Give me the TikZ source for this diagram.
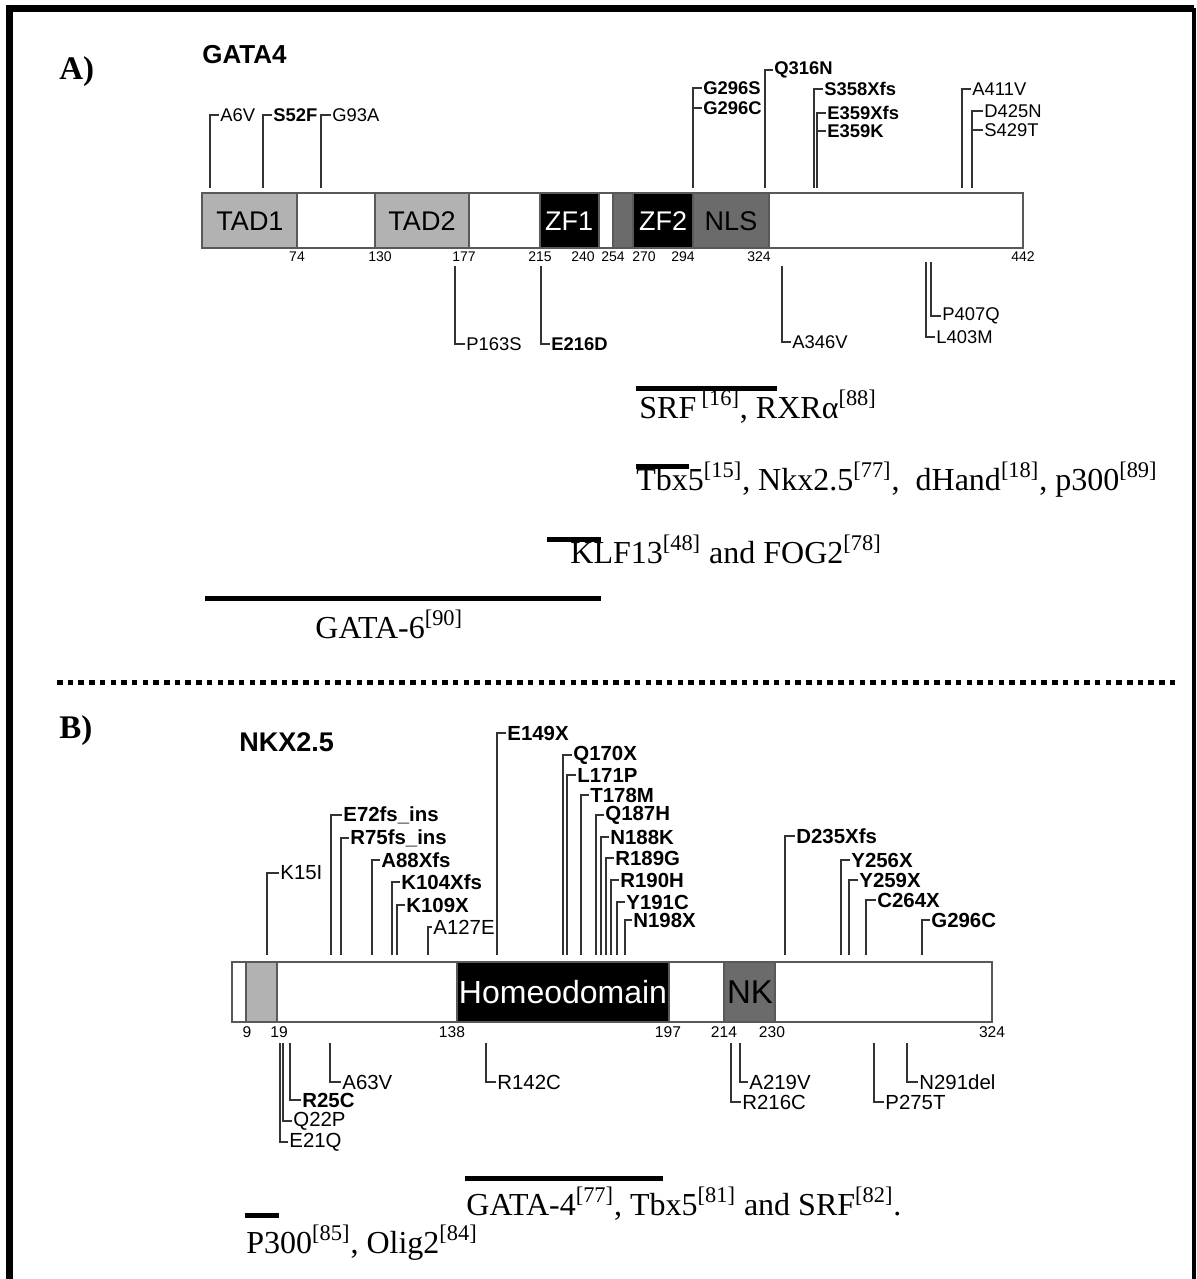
\documentclass[tikz,border=0pt]{standalone}
\usepackage{fontspec}
\setmainfont{Liberation Serif}
\setsansfont{Liberation Sans}
\tikzset{frame/.style={line width=3.5pt},protein/.style={draw=black!65,line width=.75pt},
  tad/.style={protein,fill=black!30},zf/.style={protein,fill=black},nls/.style={protein,fill=black!58},
  lead/.style={draw=black!80,line width=.65pt},
  mutA/.style={anchor=west,inner sep=.5pt,font=\sffamily\fontsize{9.2}{10}\selectfont},
  mutAb/.style={mutA,font=\sffamily\bfseries\fontsize{9.2}{10}\selectfont},
  mutB/.style={anchor=west,inner sep=.5pt,font=\sffamily\fontsize{10.2}{11}\selectfont},
  mutBb/.style={mutB,font=\sffamily\bfseries\fontsize{10.2}{11}\selectfont},
  posA/.style={anchor=center,inner sep=0pt,font=\sffamily\fontsize{7}{7}\selectfont},
  posB/.style={anchor=center,inner sep=0pt,font=\sffamily\fontsize{7.8}{8}\selectfont},
  domtext/.style={anchor=center,inner sep=0pt,font=\sffamily\fontsize{13.5}{14}\selectfont},
  partner/.style={anchor=base west,inner sep=0pt,font=\fontsize{16}{18}\selectfont},
  bind/.style={line width=2.5pt}}

\begin{document}
\begin{tikzpicture}[x=.5pt,y=-.5pt]
\path[use as bounding box] (0,0) rectangle (1197,1279);
\draw[frame] (9.5,1279) -- (9.5,8.5) -- (1194,8.5);
\draw[line width=2pt] (1194,8.5) -- (1194,1279);
% panel A
\node[anchor=base west,inner sep=0pt,font=\bfseries\fontsize{16.5}{18}\selectfont] (lblA) at (59,80) {A)};
\node[anchor=west,inner sep=0pt,font=\sffamily\bfseries\fontsize{13}{14}\selectfont] (gata) at (202,55) {GATA4};
\draw[protein,fill=white] (202,193) rectangle (1023,248);
\draw[tad] (202,193) rectangle (297,248);
\draw[tad] (375,193) rectangle (469,248);
\draw[zf] (540,193) rectangle (599,248);
\draw[nls] (613,193) rectangle (633,248);
\draw[zf] (633,193) rectangle (693,248);
\draw[nls] (693,193) rectangle (769,248);
\node[domtext] (tad1) at (250,221) {TAD1};
\node[domtext] (tad2) at (422,221) {TAD2};
\node[domtext,text=white] (zf1) at (569,221) {ZF1};
\node[domtext,text=white] (zf2) at (663,221) {ZF2};
\node[domtext] (nls) at (731,221) {NLS};
\node[posA] (n74) at (297,257) {74};
\node[posA] (n130) at (380,257) {130};
\node[posA] (n177) at (464,257) {177};
\node[posA] (n215) at (540,257) {215};
\node[posA] (n240) at (583,257) {240};
\node[posA] (n254) at (613,257) {254};
\node[posA] (n270) at (644,257) {270};
\node[posA] (n294) at (683,257) {294};
\node[posA] (n324) at (759,257) {324};
\node[posA] (n442) at (1023,257) {442};
% mutations above
\node[mutA] (a6v) at (219,115) {A6V};
\draw[lead] (210,188) |- (a6v.west);
\node[mutAb] (s52f) at (272,115) {S52F};
\draw[lead] (263,188) |- (s52f.west);
\node[mutA] (g93a) at (331,115) {G93A};
\draw[lead] (321,188) |- (g93a.west);
\node[mutAb] (g296s) at (702,88) {G296S};
\node[mutAb] (g296c) at (702,108) {G296C};
\draw[lead] (693,188) |- (g296s.west);
\draw[lead] (693,108) -- (g296c.west);
\node[mutAb] (q316n) at (773,70) {Q316N};
\draw[lead] (765,188) |- (q316n.west);
\node[mutAb] (s358xfs) at (823,89) {S358Xfs};
\draw[lead] (814,188) |- (s358xfs.west);
\node[mutAb] (e359xfs) at (826,113) {E359Xfs};
\node[mutAb] (e359k) at (826,131) {E359K};
\draw[lead] (817,188) |- (e359xfs.west);
\draw[lead] (817,131) -- (e359k.west);
\node[mutA] (a411v) at (971,89) {A411V};
\draw[lead] (962,188) |- (a411v.west);
\node[mutA] (d425n) at (983,111) {D425N};
\node[mutA] (s429t) at (983,130) {S429T};
\draw[lead] (972,188) |- (d425n.west);
\draw[lead] (972,130) -- (s429t.west);
% mutations below
\node[mutA] (p163s) at (465,344) {P163S};
\draw[lead] (455,266) |- (p163s.west);
\node[mutAb] (e216d) at (550,344) {E216D};
\draw[lead] (541,266) |- (e216d.west);
\node[mutA] (a346v) at (791,342) {A346V};
\draw[lead] (782,266) |- (a346v.west);
\node[mutA] (p407q) at (941,316) {P407Q};
\draw[lead] (931,262) |- (p407q.west);
\node[mutA] (l403m) at (935,337) {L403M};
\draw[lead] (926,262) |- (l403m.west);
% interacting partners
\draw[bind] (636,388) -- (777,388);
\node[partner] (srf) at (639,418) {SRF\,\textsuperscript{[16]}, RXRα\textsuperscript{[88]}};
\draw[bind] (636,466) -- (689,466);
\node[partner] (tbx) at (636,490) {Tbx5\textsuperscript{[15]}, Nkx2.5\textsuperscript{[77]},\ \ dHand\textsuperscript{[18]}, p300\textsuperscript{[89]}};
\draw[bind] (547,539) -- (601,539);
\node[partner] (klf) at (570,563) {KLF13\textsuperscript{[48]} and FOG2\textsuperscript{[78]}};
\draw[bind] (205,598) -- (601,598);
\node[partner] (gata6) at (315,638) {GATA-6\textsuperscript{[90]}};
\draw[line width=2.5pt,dash pattern=on 2.75pt off 2.6pt] (57,682) -- (1178,682);
% panel B
\node[anchor=base west,inner sep=0pt,font=\bfseries\fontsize{16.5}{18}\selectfont] (lblB) at (59,738) {B)};
\node[anchor=west,inner sep=0pt,font=\sffamily\bfseries\fontsize{13.5}{14}\selectfont] (nkx) at (239,742) {NKX2.5};
\draw[protein,fill=white] (232,962) rectangle (992,1022);
\draw[tad] (246,962) rectangle (277,1022);
\draw[zf] (457,962) rectangle (669,1022);
\draw[nls] (724,962) rectangle (775,1022);
\node[domtext,text=white,font=\sffamily\fontsize{16}{17}\selectfont] (homeo) at (563,992) {Homeodomain};
\node[domtext,font=\sffamily\fontsize{16.5}{17}\selectfont] (nk) at (750,992) {NK};
\node[posB] (m9) at (247,1032) {9};
\node[posB] (m19) at (279,1032) {19};
\node[posB] (m138) at (452,1032) {138};
\node[posB] (m197) at (668,1032) {197};
\node[posB] (m214) at (724,1032) {214};
\node[posB] (m230) at (772,1032) {230};
\node[posB] (m324) at (992,1032) {324};
% mutations above
\node[mutB] (k15i) at (279,873) {K15I};
\draw[lead] (267,955) |- (k15i.west);
\node[mutBb] (e72) at (342,815) {E72fs\_ins};
\draw[lead] (331,955) |- (e72.west);
\node[mutBb] (r75) at (349,838) {R75fs\_ins};
\draw[lead] (341,955) |- (r75.west);
\node[mutBb] (a88) at (380,860) {A88Xfs};
\draw[lead] (372,955) |- (a88.west);
\node[mutBb] (k104) at (400,882) {K104Xfs};
\draw[lead] (392,955) |- (k104.west);
\node[mutBb] (k109) at (405,905) {K109X};
\draw[lead] (397,955) |- (k109.west);
\node[mutB] (a127e) at (432,927) {A127E};
\draw[lead] (428,955) |- (a127e.west);
\node[mutBb] (e149x) at (506,733) {E149X};
\draw[lead] (497,955) |- (e149x.west);
\node[mutBb] (q170x) at (572,755) {Q170X};
\draw[lead] (563,955) |- (q170x.west);
\node[mutBb] (l171p) at (576,775) {L171P};
\draw[lead] (567,955) |- (l171p.west);
\node[mutBb] (t178m) at (589,795) {T178M};
\draw[lead] (581,955) |- (t178m.west);
\node[mutBb] (q187h) at (604,815) {Q187H};
\draw[lead] (596,955) |- (q187h.west);
\node[mutBb] (n188k) at (609,837) {N188K};
\draw[lead] (601,955) |- (n188k.west);
\node[mutBb] (r189g) at (614,858) {R189G};
\draw[lead] (606,955) |- (r189g.west);
\node[mutBb] (r190h) at (619,880) {R190H};
\draw[lead] (611,955) |- (r190h.west);
\node[mutBb] (y191c) at (625,902) {Y191C};
\draw[lead] (617,955) |- (y191c.west);
\node[mutBb] (n198x) at (632,920) {N198X};
\draw[lead] (625,955) |- (n198x.west);
\node[mutBb] (d235) at (795,836) {D235Xfs};
\draw[lead] (785,955) |- (d235.west);
\node[mutBb] (y256x) at (850,860) {Y256X};
\draw[lead] (841,955) |- (y256x.west);
\node[mutBb] (y259x) at (858,880) {Y259X};
\draw[lead] (849,955) |- (y259x.west);
\node[mutBb] (c264x) at (876,900) {C264X};
\draw[lead] (866,955) |- (c264x.west);
\node[mutBb] (g296cb) at (930,920) {G296C};
\draw[lead] (922,955) |- (g296cb.west);
% mutations below
\node[mutB] (a63v) at (341,1082) {A63V};
\draw[lead] (330,1043) |- (a63v.west);
\node[mutB] (r142c) at (496,1082) {R142C};
\draw[lead] (486,1043) |- (r142c.west);
\node[mutBb] (r25c) at (301,1100) {R25C};
\draw[lead] (290,1043) |- (r25c.west);
\node[mutB] (q22p) at (292,1121) {Q22P};
\draw[lead] (283,1043) |- (q22p.west);
\node[mutB] (e21q) at (288,1142) {E21Q};
\draw[lead] (280,1043) |- (e21q.west);
\node[mutB] (a219v) at (748,1082) {A219V};
\draw[lead] (740,1043) |- (a219v.west);
\node[mutB] (r216c) at (741,1102) {R216C};
\draw[lead] (731,1043) |- (r216c.west);
\node[mutB] (n291del) at (918,1082) {N291del};
\draw[lead] (907,1043) |- (n291del.west);
\node[mutB] (p275t) at (884,1102) {P275T};
\draw[lead] (874,1043) |- (p275t.west);
% interacting partners
\draw[bind] (465,1178) -- (663,1178);
\node[partner] (gata4b) at (466,1215) {GATA-4\textsuperscript{[77]}, Tbx5\textsuperscript{[81]} and SRF\textsuperscript{[82]}.};
\draw[bind] (245,1215) -- (279,1215);
\node[partner] (p300) at (246,1253) {P300\textsuperscript{[85]}, Olig2\textsuperscript{[84]}};
\end{tikzpicture}
\end{document}
